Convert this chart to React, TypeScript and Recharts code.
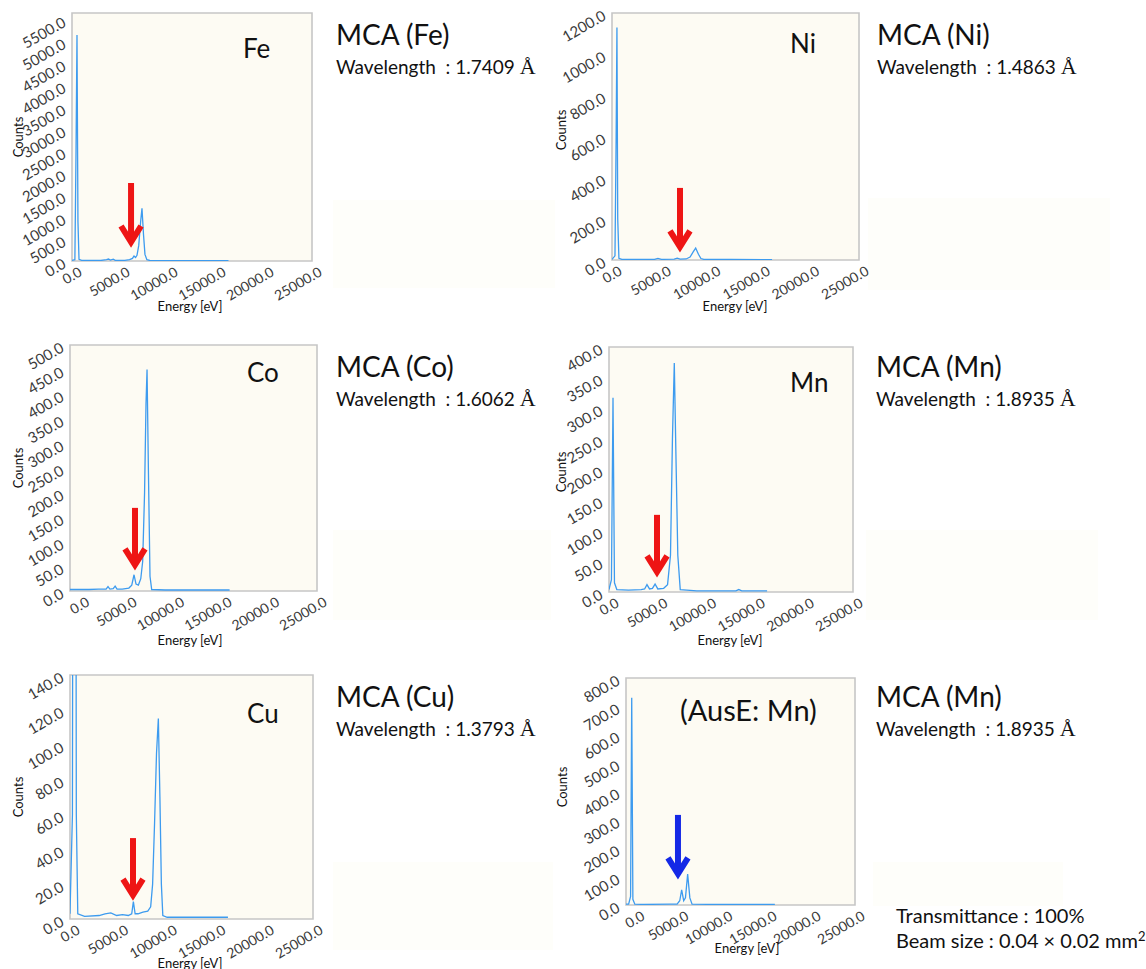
import React from 'react';
import {
  CartesianGrid,
  Line,
  LineChart,
  ReferenceArea,
  ReferenceDot,
  XAxis,
  YAxis,
} from 'recharts';

// shared energy ticks [eV]
const xTicks = [0, 5000, 10000, 15000, 20000, 25000];

// Fe
const feEnergy = [0, 300, 420, 520, 620, 730, 1000, 3000, 3600, 3800, 4000, 4300, 4500, 4800, 5500, 6000, 6300, 6460, 6620, 6770, 6950, 7150, 7290, 7450, 7600, 7800, 8100, 10000, 13000, 16300];
const feCounts = [15, 30, 2500, 5150, 900, 40, 15, 12, 30, 45, 20, 40, 15, 12, 15, 30, 60, 115, 80, 130, 350, 900, 1200, 600, 150, 30, 12, 10, 8, 6];
const feYTicks = [0, 500, 1000, 1500, 2000, 2500, 3000, 3500, 4000, 4500, 5000, 5500];

// Ni
const niEnergy = [0, 300, 420, 500, 580, 700, 1000, 4300, 4650, 5000, 6300, 6600, 6900, 7500, 7900, 8200, 8470, 8750, 9000, 9300, 12000, 16200];
const niCounts = [3, 20, 600, 1130, 200, 8, 3, 3, 8, 3, 4, 9, 4, 5, 14, 38, 58, 28, 7, 3, 3, 2];
const niYTicks = [0, 200, 400, 600, 800, 1000, 1200];

// Co
const coEnergy = [-1000, 0, 1000, 2000, 2800, 3000, 3200, 3550, 3750, 3950, 4500, 5200, 5500, 5740, 5950, 6200, 6450, 6650, 6850, 7000, 7110, 7250, 7420, 7600, 9000, 12000, 15800];
const coCounts = [3, 3, 3, 4, 4, 9, 4, 5, 10, 4, 4, 6, 12, 33, 14, 12, 25, 60, 200, 380, 450, 250, 30, 3, 2, 2, 2];
const coYTicks = [0, 50, 100, 150, 200, 250, 300, 350, 400, 450, 500];

// Mn
const mnEnergy = [0, 250, 410, 560, 800, 2000, 3300, 3650, 3890, 4150, 4450, 4720, 5000, 5600, 6000, 6300, 6500, 6690, 6850, 7050, 7300, 9000, 13000, 13300, 13600, 16200];
const mnCounts = [4, 20, 317, 15, 4, 3, 4, 5, 12, 5, 6, 13, 5, 6, 12, 60, 250, 374, 230, 60, 4, 2, 2, 4, 2, 2];
const mnYTicks = [0, 50, 100, 150, 200, 250, 300, 350, 400];

// Cu
const cuEnergy = [0, 250, 380, 515, 650, 800, 1500, 3000, 3600, 4200, 4800, 5400, 6000, 6350, 6520, 6700, 7000, 7500, 8000, 8300, 8500, 8700, 8900, 9090, 9250, 9400, 9550, 10000, 13000, 16250];
const cuCounts = [3, 60, 600, 600, 60, 3, 1.5, 2, 3, 3.5, 2, 2.5, 2, 3, 10, 3, 3, 4, 4.5, 7, 20, 55, 95, 115, 70, 20, 2, 1, 1, 1];
const cuYTicks = [0, 20, 40, 60, 80, 100, 120, 140];

// AusE: Mn
const auseEnergy = [-1000, -700, -480, -350, -220, 0, 1000, 4000, 4800, 5100, 5320, 5550, 5750, 6000, 6250, 6500, 9000, 13000, 15900];
const auseCounts = [3, 3, 30, 730, 20, 3, 2, 3, 3, 15, 53, 15, 25, 109, 25, 3, 2, 2, 2];
const auseYTicks = [0, 100, 200, 300, 400, 500, 600, 700, 800];

const FONT = 'Lato, "Noto Sans", sans-serif';
const Y_W = 72;
const TOP = 6;
const X_H = 45;

const zip = (e: number[], c: number[]) => e.map((x, i) => ({ e: x, c: c[i] }));

function YTick({ x, y, payload }: any) {
  const ax = x - 3;
  const ay = y + 6;
  return (
    <text x={ax} y={ay} textAnchor="end" transform={`rotate(-30 ${ax} ${ay})`}
      fontSize={15} fontFamily={FONT} fill="#3a3a3a">
      {Number(payload.value).toFixed(1)}
    </text>
  );
}

function XTick({ x, y, payload }: any) {
  const ax = x + 11;
  const ay = y + 12;
  return (
    <text x={ax} y={ay} textAnchor="end" transform={`rotate(-30 ${ax} ${ay})`}
      fontSize={14} fontFamily={FONT} fill="#3a3a3a">
      {Number(payload.value).toFixed(1)}
    </text>
  );
}

function Arrow({ cx, cy, color, len }: any) {
  return (
    <g>
      <line x1={cx} y1={cy - len} x2={cx} y2={cy - 6} stroke={color} strokeWidth={6} />
      <polyline points={`${cx - 10},${cy - 19} ${cx},${cy - 3} ${cx + 10},${cy - 19}`}
        fill="none" stroke={color} strokeWidth={6} />
    </g>
  );
}

const panels = [
  { name: 'Fe', data: zip(feEnergy, feCounts), yTicks: feYTicks, yDomain: [0, 5650], xDomain: [0, 25000],
    plotX: 72, plotY: 13, plotW: 240, plotH: 248, arrow: [6150, 365], arrowColor: '#ee1515', arrowLen: 62,
    label: { x: 243, y: 35, size: 26 }, counts: [18, 137], energy: [190, 306],
    mca: 'MCA (Fe)', wl: '1.7409', textX: 336, textY: 20 },
  { name: 'Ni', data: zip(niEnergy, niCounts), yTicks: niYTicks, yDomain: [0, 1200], xDomain: [0, 25000],
    plotX: 612, plotY: 13, plotW: 247, plotH: 247, arrow: [6880, 49], arrowColor: '#ee1515', arrowLen: 62,
    label: { x: 790, y: 30, size: 26 }, counts: [561, 130], energy: [735, 306],
    mca: 'MCA (Ni)', wl: '1.4863', textX: 877, textY: 20 },
  { name: 'Co', data: zip(coEnergy, coCounts), yTicks: coYTicks, yDomain: [0, 500], xDomain: [-1000, 25000],
    plotX: 70, plotY: 345, plotW: 247, plotH: 246, arrow: [5840, 47], arrowColor: '#ee1515', arrowLen: 60,
    label: { x: 247, y: 359, size: 26 }, counts: [18, 468], energy: [190, 640],
    mca: 'MCA (Co)', wl: '1.6062', textX: 336, textY: 352 },
  { name: 'Mn', data: zip(mnEnergy, mnCounts), yTicks: mnYTicks, yDomain: [0, 400], xDomain: [0, 25000],
    plotX: 609, plotY: 347, plotW: 244, plotH: 245, arrow: [4920, 28], arrowColor: '#ee1515', arrowLen: 60,
    label: { x: 790, y: 369, size: 26 }, counts: [561, 472], energy: [730, 640],
    mca: 'MCA (Mn)', wl: '1.8935', textX: 876, textY: 352 },
  { name: 'Cu', data: zip(cuEnergy, cuCounts), yTicks: cuYTicks, yDomain: [0, 140], xDomain: [0, 25000],
    plotX: 70, plotY: 675, plotW: 243, plotH: 244, arrow: [6480, 12], arrowColor: '#ee1515', arrowLen: 60,
    label: { x: 247, y: 700, size: 26 }, counts: [18, 797], energy: [190, 963],
    mca: 'MCA (Cu)', wl: '1.3793', textX: 336, textY: 682 },
  { name: '(AusE: Mn)', data: zip(auseEnergy, auseCounts), yTicks: auseYTicks, yDomain: [0, 800], xDomain: [-1000, 25000],
    plotX: 626, plotY: 678, plotW: 229, plotH: 227, arrow: [4900, 99], arrowColor: '#1428e6', arrowLen: 62,
    label: { x: 680, y: 695, size: 29 }, counts: [562, 787], energy: [747, 948],
    mca: 'MCA (Mn)', wl: '1.8935', textX: 876, textY: 682 },
];

const faint = [
  [333, 200, 222, 88], [868, 198, 242, 92], [333, 530, 218, 90],
  [866, 530, 232, 90], [333, 862, 220, 88], [873, 862, 190, 44],
];

function McaChart({ p }: any) {
  const W = p.plotW + Y_W + 14;
  const H = p.plotH + TOP + X_H;
  return (
    <div style={{ position: 'absolute', left: p.plotX - Y_W, top: p.plotY - TOP }}>
      <LineChart width={W} height={H} data={p.data} margin={{ top: TOP, right: 14, left: 0, bottom: 0 }}>
        <CartesianGrid fill="#fdfbf3" horizontal={false} vertical={false} />
        <XAxis type="number" dataKey="e" domain={p.xDomain} ticks={xTicks} allowDataOverflow
          interval={0} tick={<XTick />} tickLine={false} axisLine={false} tickSize={0} height={X_H} />
        <YAxis type="number" domain={p.yDomain} ticks={p.yTicks} allowDataOverflow
          interval={0} tick={<YTick />} tickLine={false} axisLine={false} tickSize={0} width={Y_W} />
        <ReferenceArea x1={p.xDomain[0]} x2={p.xDomain[1]} y1={p.yDomain[0]} y2={p.yDomain[1]}
          fill="none" stroke="#c6c6c6" strokeWidth={1.6} ifOverflow="visible" />
        <Line dataKey="c" type="linear" stroke="#3d9bef" strokeWidth={1.3} dot={false}
          isAnimationActive={false} />
        <ReferenceDot x={p.arrow[0]} y={p.arrow[1]} ifOverflow="visible"
          shape={(s: any) => <Arrow cx={s.cx} cy={s.cy} color={p.arrowColor} len={p.arrowLen} />} />
      </LineChart>
      <div style={{ position: 'absolute', left: p.label.x - p.plotX + Y_W, top: p.label.y - p.plotY + TOP,
        fontSize: p.label.size, lineHeight: 1, fontFamily: FONT, color: '#111', whiteSpace: 'pre' }}>
        {p.name}
      </div>
    </div>
  );
}

const abs = (x: number, y: number, extra: any = {}) => ({
  position: 'absolute' as const, left: x, top: y, fontFamily: FONT, color: '#111', lineHeight: 1, whiteSpace: 'pre' as const, ...extra,
});

export default function App() {
  return (
    <div style={{ position: 'absolute', left: 0, top: 0, width: 1146, height: 969, background: '#fff', overflow: 'hidden' }}>
      {faint.map(([x, y, w, h], i) => (
        <div key={i} style={{ position: 'absolute', left: x, top: y, width: w, height: h, background: '#fefefa' }} />
      ))}
      {panels.map((p) => (
        <React.Fragment key={p.name + p.plotY}>
          <McaChart p={p} />
          <div style={abs(p.counts[0], p.counts[1], { fontSize: 13, transform: 'translate(-50%, -50%) rotate(-90deg)' })}>Counts</div>
          <div style={abs(p.energy[0], p.energy[1], { fontSize: 13, transform: 'translate(-50%, -50%)' })}>Energy [eV]</div>
          <div style={abs(p.textX, p.textY, { fontSize: 28 })}>{p.mca}</div>
          <div style={abs(p.textX, p.textY + 36, { fontSize: 19 })}>
            {'Wavelength  : ' + p.wl + ' '}
            <span style={{ fontFamily: '"Liberation Serif", "DejaVu Serif", serif', fontSize: 22 }}>Å</span>
          </div>
        </React.Fragment>
      ))}
      <div style={abs(896, 905, { fontSize: 20 })}>Transmittance : 100%</div>
      <div style={abs(896, 930, { fontSize: 20 })}>
        Beam size : 0.04 × 0.02 mm<sup style={{ fontSize: 13, verticalAlign: 'top', lineHeight: 1 }}>2</sup>
      </div>
    </div>
  );
}
